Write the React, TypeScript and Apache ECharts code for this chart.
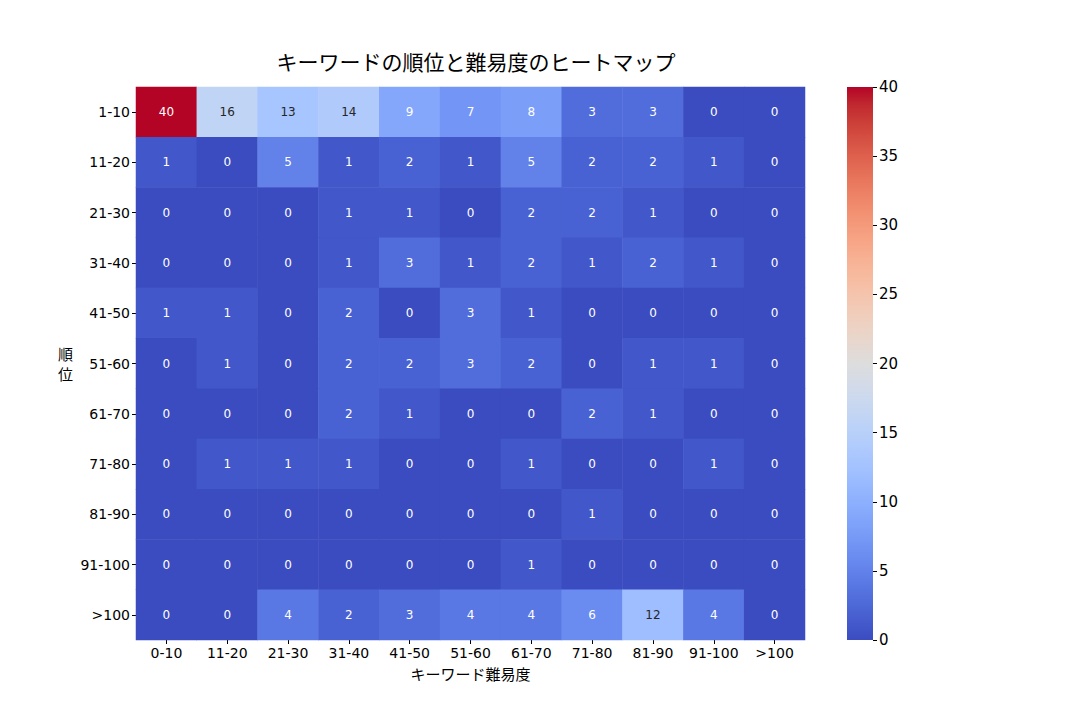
import React, { useEffect, useRef } from "react";
import * as echarts from "echarts";

const xCategories = ["0-10", "11-20", "21-30", "31-40", "41-50", "51-60", "61-70", "71-80", "81-90", "91-100", ">100"];
const yCategories = ["1-10", "11-20", "21-30", "31-40", "41-50", "51-60", "61-70", "71-80", "81-90", "91-100", ">100"];

const row1_10 = [40, 16, 13, 14, 9, 7, 8, 3, 3, 0, 0];
const row11_20 = [1, 0, 5, 1, 2, 1, 5, 2, 2, 1, 0];
const row21_30 = [0, 0, 0, 1, 1, 0, 2, 2, 1, 0, 0];
const row31_40 = [0, 0, 0, 1, 3, 1, 2, 1, 2, 1, 0];
const row41_50 = [1, 1, 0, 2, 0, 3, 1, 0, 0, 0, 0];
const row51_60 = [0, 1, 0, 2, 2, 3, 2, 0, 1, 1, 0];
const row61_70 = [0, 0, 0, 2, 1, 0, 0, 2, 1, 0, 0];
const row71_80 = [0, 1, 1, 1, 0, 0, 1, 0, 0, 1, 0];
const row81_90 = [0, 0, 0, 0, 0, 0, 0, 1, 0, 0, 0];
const row91_100 = [0, 0, 0, 0, 0, 0, 1, 0, 0, 0, 0];
const rowOver100 = [0, 0, 4, 2, 3, 4, 4, 6, 12, 4, 0];

const rows = [row1_10, row11_20, row21_30, row31_40, row41_50, row51_60, row61_70, row71_80, row81_90, row91_100, rowOver100];

const VMIN = 0;
const VMAX = 40;
const colorbarTicks = [0, 5, 10, 15, 20, 25, 30, 35, 40];

// matplotlib coolwarm control points (33 evenly spaced)
const COOLWARM: number[][] = [
  [0.2298057, 0.298717966, 0.753683153],
  [0.26623388, 0.353094838, 0.801466763],
  [0.30386891, 0.406535296, 0.84495867],
  [0.342804478, 0.458757618, 0.883725899],
  [0.38301334, 0.50941904, 0.917387822],
  [0.424369608, 0.558148092, 0.945619588],
  [0.46666708, 0.604562568, 0.968154911],
  [0.509635204, 0.648280772, 0.98478814],
  [0.552953156, 0.688929332, 0.995375608],
  [0.596262162, 0.726149107, 0.999836203],
  [0.639176211, 0.759599947, 0.998151185],
  [0.681291281, 0.788964712, 0.990363227],
  [0.722193294, 0.813952739, 0.976574709],
  [0.761464949, 0.834302879, 0.956945269],
  [0.798691636, 0.849786142, 0.931688648],
  [0.833466556, 0.860207984, 0.901068838],
  [0.865395197, 0.86541021, 0.865395561],
  [0.897787179, 0.848937047, 0.820880546],
  [0.924127593, 0.827384882, 0.774508472],
  [0.944468518, 0.800927443, 0.726736146],
  [0.958852946, 0.769767752, 0.678007945],
  [0.96732803, 0.734132809, 0.628751763],
  [0.969954137, 0.694266682, 0.579375448],
  [0.966811177, 0.650421156, 0.530263762],
  [0.958003065, 0.602842431, 0.481775914],
  [0.943660866, 0.551750968, 0.434243684],
  [0.923944917, 0.49730856, 0.387970225],
  [0.89904617, 0.439559467, 0.343229596],
  [0.869186849, 0.378313092, 0.300267182],
  [0.834620542, 0.312874446, 0.259301199],
  [0.795631745, 0.24128379, 0.220525627],
  [0.752534934, 0.157246067, 0.184115123],
  [0.705673158, 0.01555616, 0.150232812],
];

function coolwarmRGB(t: number): number[] {
  const tt = Math.max(0, Math.min(1, t));
  const pos = tt * (COOLWARM.length - 1);
  const i = Math.min(Math.floor(pos), COOLWARM.length - 2);
  const f = pos - i;
  const a = COOLWARM[i];
  const b = COOLWARM[i + 1];
  return [a[0] + (b[0] - a[0]) * f, a[1] + (b[1] - a[1]) * f, a[2] + (b[2] - a[2]) * f];
}

function toCss(c: number[]): string {
  return `rgb(${Math.round(c[0] * 255)},${Math.round(c[1] * 255)},${Math.round(c[2] * 255)})`;
}

function luminance(c: number[]): number {
  const lin = c.map((v) => (v <= 0.03928 ? v / 12.92 : Math.pow((v + 0.055) / 1.055, 2.4)));
  return 0.2126 * lin[0] + 0.7152 * lin[1] + 0.0722 * lin[2];
}

const FONT = "'DejaVu Sans', 'Noto Sans CJK JP', sans-serif";
const CJK_FONT = "'Noto Sans CJK JP', 'DejaVu Sans', sans-serif";

export default function App() {
  const ref = useRef<HTMLDivElement>(null);

  useEffect(() => {
    if (!ref.current) return;
    const chart = echarts.init(ref.current, undefined, { renderer: "svg" });

    const heatData: any[] = [];
    rows.forEach((row, yi) => {
      row.forEach((v, xi) => {
        const c = coolwarmRGB((v - VMIN) / (VMAX - VMIN));
        const textColor = luminance(c) > 0.408 ? "#262626" : "#ffffff";
        heatData.push({
          value: [xi, yi, v],
          label: { color: textColor },
        });
      });
    });

    const cssColors = COOLWARM.map((c) => toCss(c));
    const gradientStops = cssColors.map((color, i) => ({ offset: i / (cssColors.length - 1), color }));

    chart.setOption({
      animation: false,
      backgroundColor: "#ffffff",
      textStyle: { fontFamily: FONT },
      title: {
        text: "キーワードの順位と難易度のヒートマップ",
        left: 471,
        top: 45,
        textAlign: "center",
        textStyle: { fontFamily: CJK_FONT, fontSize: 21, fontWeight: "normal", color: "#000" },
      },
      visualMap: {
        type: "continuous",
        show: false,
        min: VMIN,
        max: VMAX,
        dimension: 2,
        seriesIndex: 0,
        inRange: { color: cssColors },
      },
      grid: [
        { left: 136, top: 87, width: 669, height: 553 },
        { left: 847, top: 87, width: 26, height: 553 },
      ],
      xAxis: [
        {
          type: "category",
          gridIndex: 0,
          data: xCategories,
          name: "キーワード難易度",
          nameLocation: "middle",
          nameGap: 26,
          nameTextStyle: { fontFamily: CJK_FONT, fontSize: 15, color: "#000" },
          axisLine: { show: false },
          axisTick: { show: true, alignWithLabel: true, length: 4, lineStyle: { color: "#000" } },
          axisLabel: { fontFamily: FONT, fontSize: 14, color: "#000", margin: 6, interval: 0 },
          splitLine: { show: false },
        },
        {
          type: "category",
          gridIndex: 1,
          data: ["c"],
          show: false,
        },
      ],
      yAxis: [
        {
          type: "category",
          gridIndex: 0,
          data: yCategories,
          inverse: true,
          name: "順\n位",
          nameLocation: "middle",
          nameRotate: 0,
          nameGap: 63,
          nameTextStyle: { fontFamily: CJK_FONT, fontSize: 15, color: "#000000", lineHeight: 20 },
          axisLine: { show: false },
          axisTick: { show: true, alignWithLabel: true, length: 4, lineStyle: { color: "#000" } },
          axisLabel: { fontFamily: FONT, fontSize: 14, color: "#000", margin: 6, interval: 0 },
          splitLine: { show: false },
        },
        {
          type: "value",
          gridIndex: 1,
          min: 0,
          max: 40,
          interval: 5,
          position: "right",
          axisLine: { show: false },
          axisTick: { show: true, inside: false, length: 4, lineStyle: { color: "#000" } },
          axisLabel: { fontFamily: FONT, fontSize: 15, color: "#000", margin: 6 },
          splitLine: { show: false },
        },
      ],
      series: [
        {
          type: "heatmap",
          xAxisIndex: 0,
          yAxisIndex: 0,
          data: heatData,
          label: { show: true, fontFamily: FONT, fontSize: 12 },
          itemStyle: { borderWidth: 0 },
          emphasis: { disabled: true },
        },
        {
          type: "bar",
          xAxisIndex: 1,
          yAxisIndex: 1,
          data: [colorbarTicks[colorbarTicks.length - 1]],
          barWidth: "100%",
          itemStyle: {
            color: new echarts.graphic.LinearGradient(0, 1, 0, 0, gradientStops),
          },
          silent: true,
        },
      ],
    });

    return () => chart.dispose();
  }, []);

  return <div ref={ref} style={{ position: "fixed", left: 0, top: 0, width: 1080, height: 720 }} />;
}
